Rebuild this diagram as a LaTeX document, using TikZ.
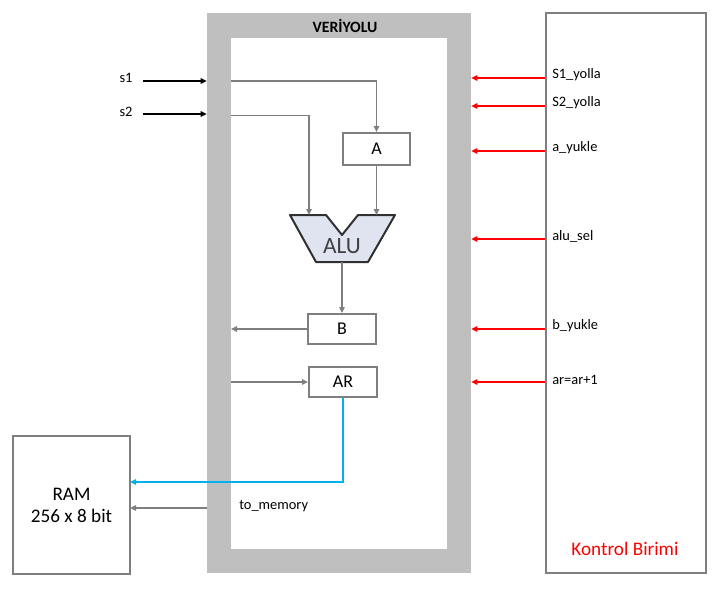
\documentclass[tikz,border=0pt]{standalone}
\usepackage{fontspec}
\setmainfont{Carlito}
\usetikzlibrary{arrows.meta,fit,calc}
\definecolor{busgray}{HTML}{BFBFBF}
\definecolor{lgray}{HTML}{7F7F7F}
\definecolor{ared}{HTML}{FF0000}
\definecolor{ablue}{HTML}{00B0F0}
\definecolor{alufill}{HTML}{DFE4F0}
\definecolor{aluline}{HTML}{303030}
\definecolor{alutext}{HTML}{404040}
\tikzset{
  tip/.style={-{Triangle[length=4.5pt,width=4pt]}},
  glink/.style={tip, draw=lgray, line width=1.1pt},
  klink/.style={tip, draw=black, line width=1.5pt},
  rlink/.style={tip, draw=ared, line width=1.5pt},
  blink/.style={tip, draw=ablue, line width=1.5pt},
  regbox/.style={draw=lgray, line width=1.3pt, fill=white, inner sep=0pt, font=\fontsize{13.5}{15}\selectfont},
  bigbox/.style={draw=lgray, line width=1.1pt, fill=white, inner sep=0pt},
  sig/.style={font=\fontsize{10.8}{12}\selectfont, inner sep=0pt, anchor=west},
}
\begin{document}
\begin{tikzpicture}[x=0.75pt,y=-0.75pt]
\useasboundingbox (0,0) rectangle (721,594);
% bus frame
\coordinate (bo1) at (207,13); \coordinate (bo2) at (471,573);
\coordinate (bi1) at (231,38); \coordinate (bi2) at (447,549);
\node[fit=(bo1)(bo2), inner sep=0pt, fill=busgray] (bus) {};
\node[fit=(bi1)(bi2), inner sep=0pt, fill=white] (busin) {};
\node[font=\bfseries\fontsize{11.8}{13}\selectfont] (title) at (345,26) {VERİYOLU};
% control unit
\node[bigbox, minimum width=120pt, minimum height=420pt] (KB) at (626,293) {};
\node[text=ared, font=\fontsize{14.4}{16}\selectfont] (kbl) at (625,549) {Kontrol Birimi};
% RAM
\node[bigbox, minimum width=87.75pt, minimum height=103.5pt, align=center,
      font=\fontsize{14.4}{16.5}\selectfont] (RAM) at (71.5,505) {RAM\\256 x 8 bit};
% registers
\node[regbox, minimum width=50.25pt, minimum height=24pt] (A) at (376.5,149) {A};
\node[regbox, minimum width=51pt, minimum height=22.5pt] (B) at (342,329) {B};
\node[regbox, minimum width=51pt, minimum height=22.5pt] (AR) at (343,382) {AR};
% ALU
\coordinate (alu1) at (290,215); \coordinate (alu2) at (326,215);
\coordinate (alu3) at (342,235); \coordinate (alu4) at (358,215);
\coordinate (alu5) at (395,215); \coordinate (alu6) at (368,262);
\coordinate (alu7) at (316,262);
\draw[fill=alufill, draw=aluline, line width=1.5pt, line join=round]
  (alu1) -- (alu2) -- (alu3) -- (alu4) -- (alu5) -- (alu6) -- (alu7) -- cycle;
\node[text=alutext, font=\fontsize{17.5}{19}\selectfont] (alu) at (342,246) {ALU};
\coordinate (aluin1) at (309,215); \coordinate (aluin2) at (376.5,215);
\coordinate (aluout) at (342,262);
% inputs s1, s2
\node[font=\fontsize{10.8}{12}\selectfont] (s1) at (126,78) {s1};
\node[font=\fontsize{10.8}{12}\selectfont] (s2) at (126,112) {s2};
\coordinate (s1a) at (143,81); \coordinate (s1b) at (bus.west |- s1a);
\coordinate (s2a) at (143,114); \coordinate (s2b) at (bus.west |- s2a);
\draw[klink] (s1a) -- (s1b);
\draw[klink] (s2a) -- (s2b);
% internal gray links
\coordinate (i1) at (231,81); \coordinate (i2) at (231,115.5);
\draw[glink] (i1) -| (A.north);
\draw[glink] (i2) -| (aluin1);
\draw[glink] (A.south) -- (aluin2);
\draw[glink] (aluout) -- (B.north);
\coordinate (bout) at (231,329);
\draw[glink] (B.west) -- (bout);
\coordinate (arin) at (231,382);
\draw[glink] (arin) -- (AR.west);
% AR to RAM (blue)
\coordinate (ramin1) at (130,482);
\draw[blink] (AR.south) |- (ramin1);
% to_memory
\coordinate (tm1) at (207,508); \coordinate (ramin2) at (130,508);
\draw[glink] (tm1) -- (ramin2);
\node[sig] (tml) at (239,506) {to\_memory};
% control signals
\foreach \y/\lab/\ly [count=\i] in {78/S1\_yolla/75, 106/S2\_yolla/103, 151/a\_yukle/148, 239/alu\_sel/236, 329/b\_yukle/326, 382/ar=ar+1/380}{
  \draw[rlink] (KB.west |- 0,\y) -- (bus.east |- 0,\y);
  \node[sig] (c\i) at (552,\ly) {\lab};
}
\end{tikzpicture}
\end{document}
